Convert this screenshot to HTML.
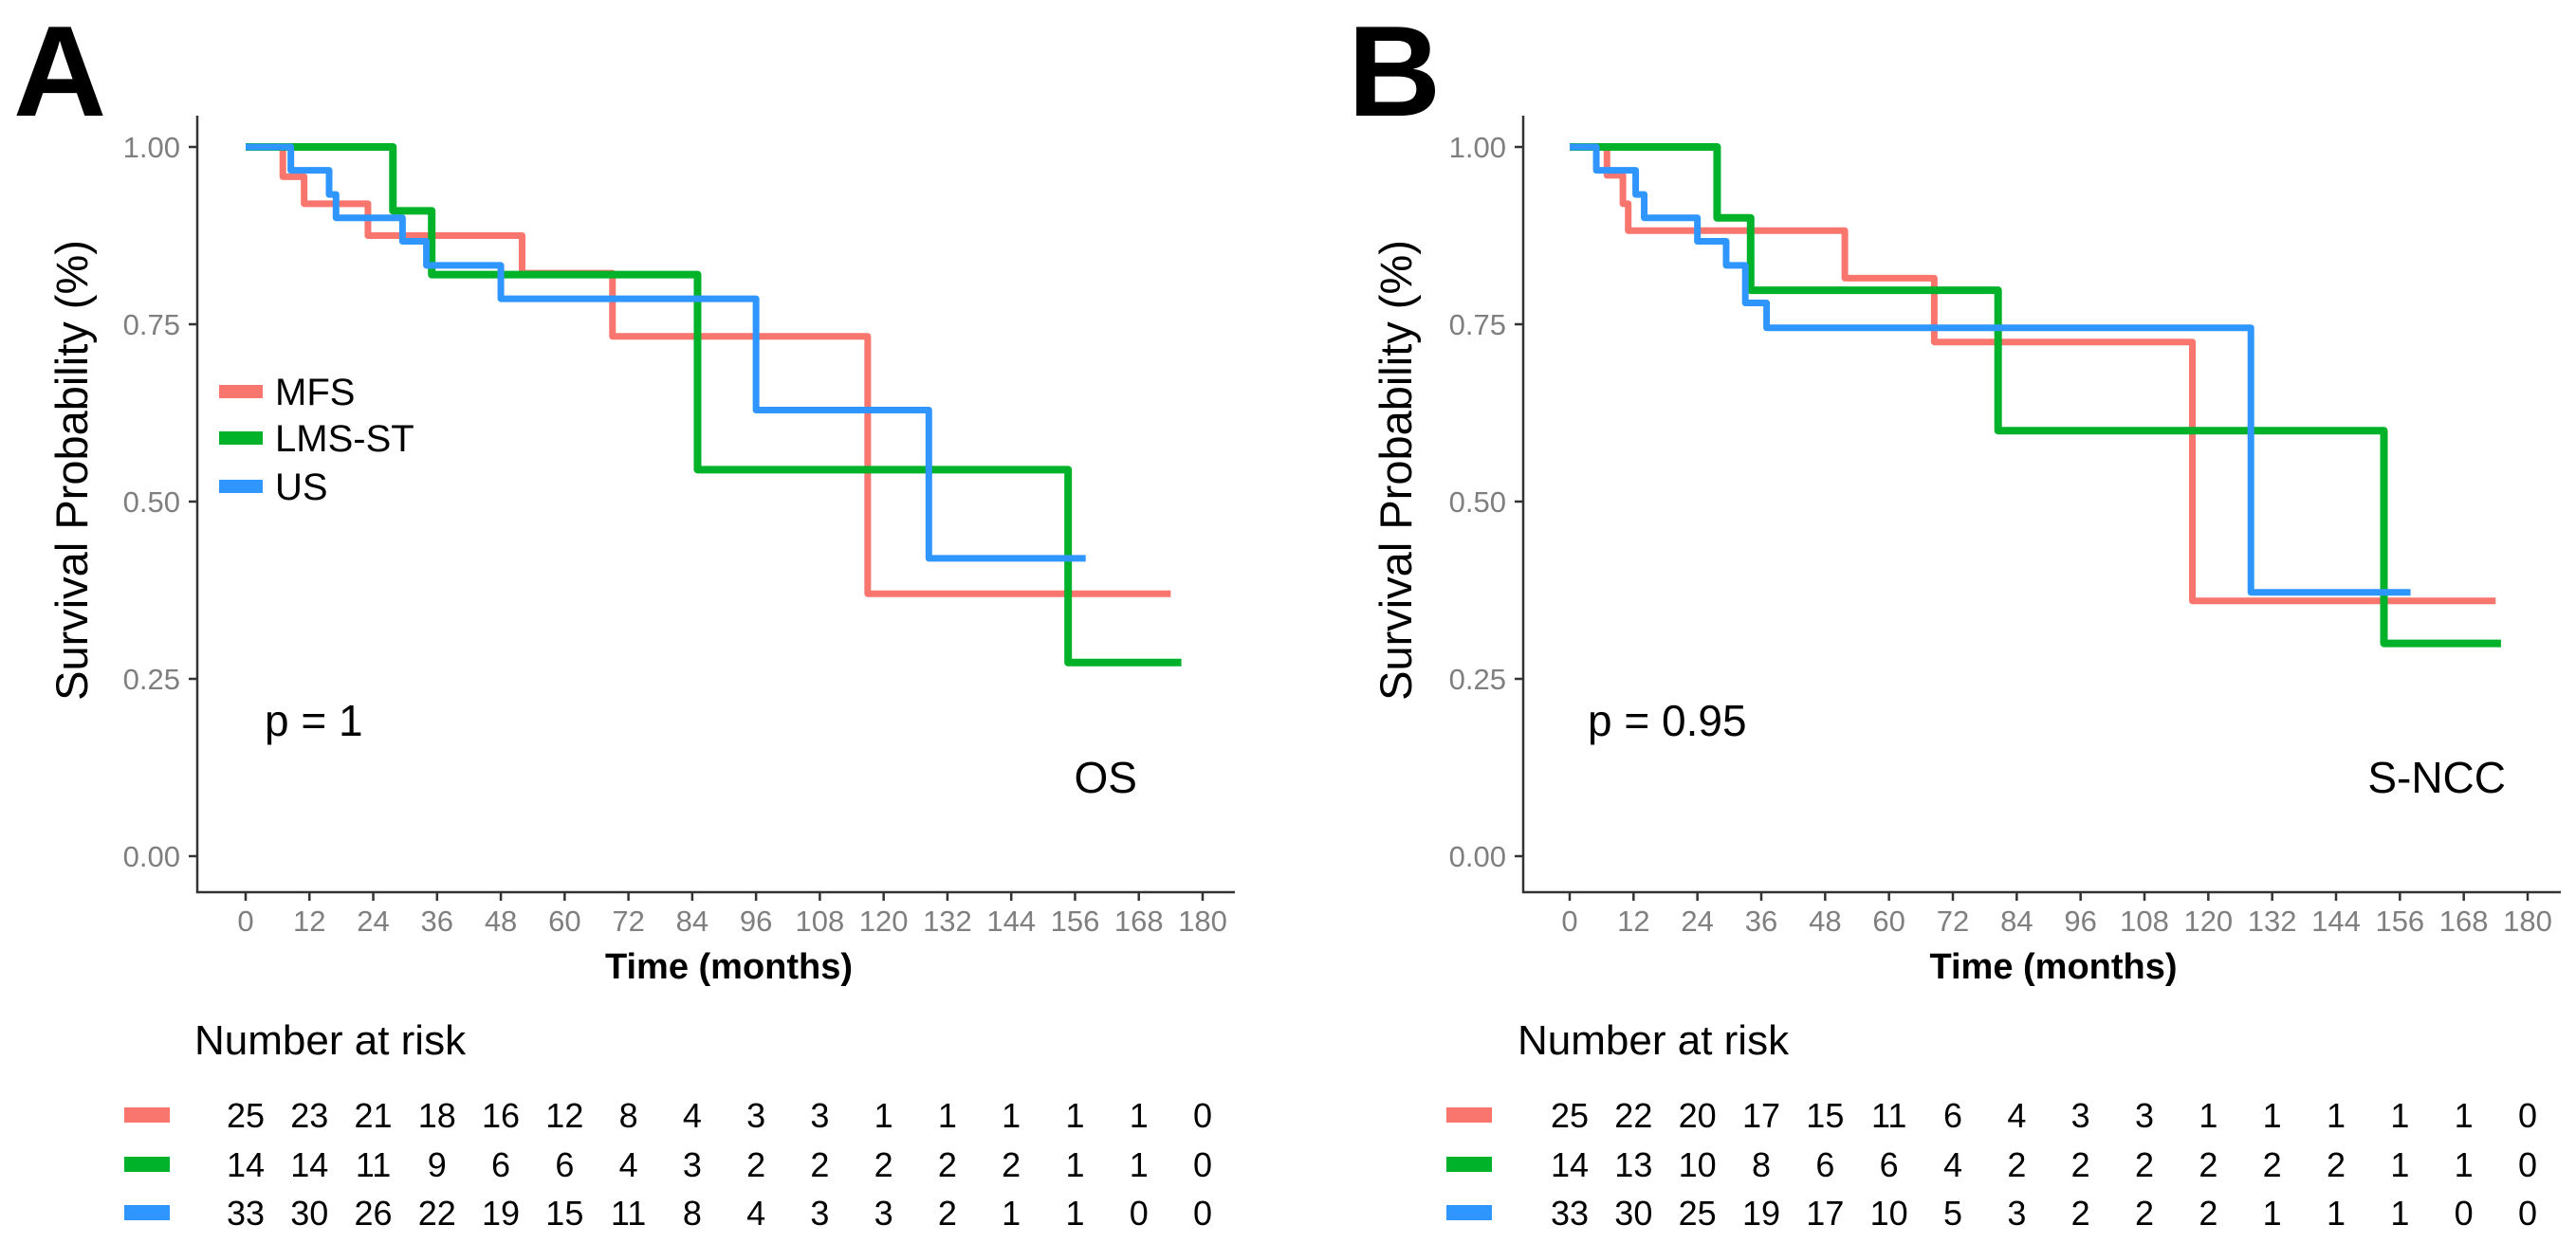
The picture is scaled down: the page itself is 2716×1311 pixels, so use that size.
<!DOCTYPE html>
<html><head><meta charset="utf-8"><style>
html,body{margin:0;padding:0;background:#fff;}
svg{display:block;font-family:"Liberation Sans",Arial,sans-serif;}
</style></head><body>
<svg id="fig" width="2716" height="1311" viewBox="0 0 2716 1311" xmlns="http://www.w3.org/2000/svg"></svg>
<script>
const timeTicks = [0,12,24,36,48,60,72,84,96,108,120,132,144,156,168,180];
const probTicks = [0,0.25,0.5,0.75,1];
const probLabels = ["0.00","0.25","0.50","0.75","1.00"];
const groups = ["MFS","LMS-ST","US"];
const colors = ["#F8766D","#00B22A","#2F96FF"];
// Panel A (OS) step curves: times and survival
const aMfsT = [0,7,11,23,52,69,117,174];
const aMfsS = [1,0.958,0.92,0.875,0.822,0.733,0.37,0.37];
const aLmsT = [0,27.7,35,85,154.7,176];
const aLmsS = [1,0.91,0.82,0.545,0.273,0.273];
const aUsT = [0,8.5,15.7,17,29.5,34,48,96,128.5,158];
const aUsS = [1,0.967,0.933,0.9,0.867,0.833,0.786,0.629,0.42,0.42];
// Panel B (S-NCC)
const bMfsT = [0,7,10,11,51.7,68.5,117,174];
const bMfsS = [1,0.96,0.92,0.882,0.815,0.725,0.36,0.36];
const bLmsT = [0,27.7,34,80.5,153,175];
const bLmsS = [1,0.9,0.798,0.6,0.3,0.3];
const bUsT = [0,5,12.4,14,24,29.4,33,37,128,158];
const bUsS = [1,0.967,0.933,0.9,0.867,0.833,0.78,0.745,0.372,0.372];
// Number at risk
const aRiskMfs = [25,23,21,18,16,12,8,4,3,3,1,1,1,1,1,0];
const aRiskLms = [14,14,11,9,6,6,4,3,2,2,2,2,2,1,1,0];
const aRiskUs = [33,30,26,22,19,15,11,8,4,3,3,2,1,1,0,0];
const bRiskMfs = [25,22,20,17,15,11,6,4,3,3,1,1,1,1,1,0];
const bRiskLms = [14,13,10,8,6,6,4,2,2,2,2,2,2,1,1,0];
const bRiskUs = [33,30,25,19,17,10,5,3,2,2,2,1,1,1,0,0];

const NS = "http://www.w3.org/2000/svg";
const svg = document.getElementById("fig");
function mk(tag, attrs, parent, text){
  const e = document.createElementNS(NS, tag);
  for (const k in attrs) e.setAttribute(k, attrs[k]);
  if (text !== undefined) e.textContent = text;
  (parent || svg).appendChild(e);
  return e;
}

function panel(cfg){
  const g = mk("g", {});
  
  
  const x = t => cfg.x0 + t * (cfg.x180 - cfg.x0) / 180;
  const y = s => 903 - s * 748;
  const letter = mk("text", {x: cfg.letterX, y: 122, "font-size": 136, "font-weight": "bold", fill: "#000"}, g, cfg.letter);
  
  
  const ax = mk("path", {d: `M${cfg.axX},122 V941 H${cfg.axEnd}`, stroke: "#333", "stroke-width": 2.5, fill: "none"}, g);
  
  
  probTicks.forEach((p, i) => {
    mk("line", {x1: cfg.axX - 9, x2: cfg.axX, y1: y(p), y2: y(p), stroke: "#333", "stroke-width": 2.5}, g);
    const t = mk("text", {x: cfg.axX - 18, y: y(p) + 11, "font-size": 31, fill: "#7f7f7f", "text-anchor": "end"}, g, probLabels[i]);
    
    
  });
  timeTicks.forEach(tt => {
    mk("line", {x1: x(tt), x2: x(tt), y1: 941, y2: 950, stroke: "#333", "stroke-width": 2.5}, g);
    const t = mk("text", {x: x(tt), y: 982, "font-size": 31, fill: "#7f7f7f", "text-anchor": "middle"}, g, String(tt));
    
    
  });
  const xt = mk("text", {x: (cfg.x0 + cfg.x180) / 2 + 5, y: 1032, "font-size": 38, "font-weight": "bold", "text-anchor": "middle", fill: "#000"}, g, "Time (months)");
  
  
  const yt = mk("text", {x: 0, y: 0, "font-size": 47, "text-anchor": "middle", fill: "#000", transform: `translate(${cfg.ylabX},496) rotate(-90)`}, g, "Survival Probability (%)");
  
  
  cfg.curves.forEach((c, i) => {
    let d = `M${x(c.t[0])},${y(c.s[0])}`;
    for (let k = 1; k < c.t.length; k++) {
      d += ` H${x(c.t[k])} V${y(c.s[k])}`;
    }
    const p = mk("path", {d, stroke: colors[i], "stroke-width": i === 1 ? 8 : 7, fill: "none", "stroke-linejoin": "round"}, g);
    
    
  });
  if (cfg.legend) {
    groups.forEach((gname, i) => {
      const ly = [413, 462, 513][i];
      const sw = mk("rect", {x: 231, y: ly - 7, width: 46, height: 14, fill: colors[i]}, g);
      
      
      const lt = mk("text", {x: 290, y: ly + 14, "font-size": 40, fill: "#000"}, g, gname);
      
      
    });
  }
  const pv = mk("text", {x: cfg.pX, y: 776, "font-size": 46, fill: "#000"}, g, cfg.pText);
  
  
  const en = mk("text", {x: cfg.endX, y: 836, "font-size": 46, fill: "#000", "text-anchor": "end"}, g, cfg.endpoint);
  
  
  const rt = mk("text", {x: cfg.riskX, y: 1112, "font-size": 44, fill: "#000"}, g, "Number at risk");
  
  
  cfg.risk.forEach((row, i) => {
    const ry = [1176, 1228, 1279][i];
    const sw = mk("rect", {x: cfg.swX, y: ry - 8, width: 48, height: 16, fill: colors[i]}, g);
    
    
    row.forEach((v, j) => {
      const t = mk("text", {x: x(timeTicks[j]), y: ry + 13, "font-size": 36, fill: "#000", "text-anchor": "middle"}, g, String(v));
      
      
    });
  });
}

panel({name: "panel-a", letter: "A", letterX: 14, axX: 208, axEnd: 1302, x0: 259, x180: 1268, ylabX: 92,
  curves: [{t: aMfsT, s: aMfsS}, {t: aLmsT, s: aLmsS}, {t: aUsT, s: aUsS}],
  legend: true, pX: 279, pText: "p = 1", endX: 1199, endpoint: "OS", riskX: 205, swX: 131,
  risk: [aRiskMfs, aRiskLms, aRiskUs]});
panel({name: "panel-b", letter: "B", letterX: 1421, axX: 1606, axEnd: 2700, x0: 1655, x180: 2665, ylabX: 1488,
  curves: [{t: bMfsT, s: bMfsS}, {t: bLmsT, s: bLmsS}, {t: bUsT, s: bUsS}],
  legend: false, pX: 1674, pText: "p = 0.95", endX: 2642, endpoint: "S-NCC", riskX: 1600, swX: 1525,
  risk: [bRiskMfs, bRiskLms, bRiskUs]});
</script>
</body></html>
